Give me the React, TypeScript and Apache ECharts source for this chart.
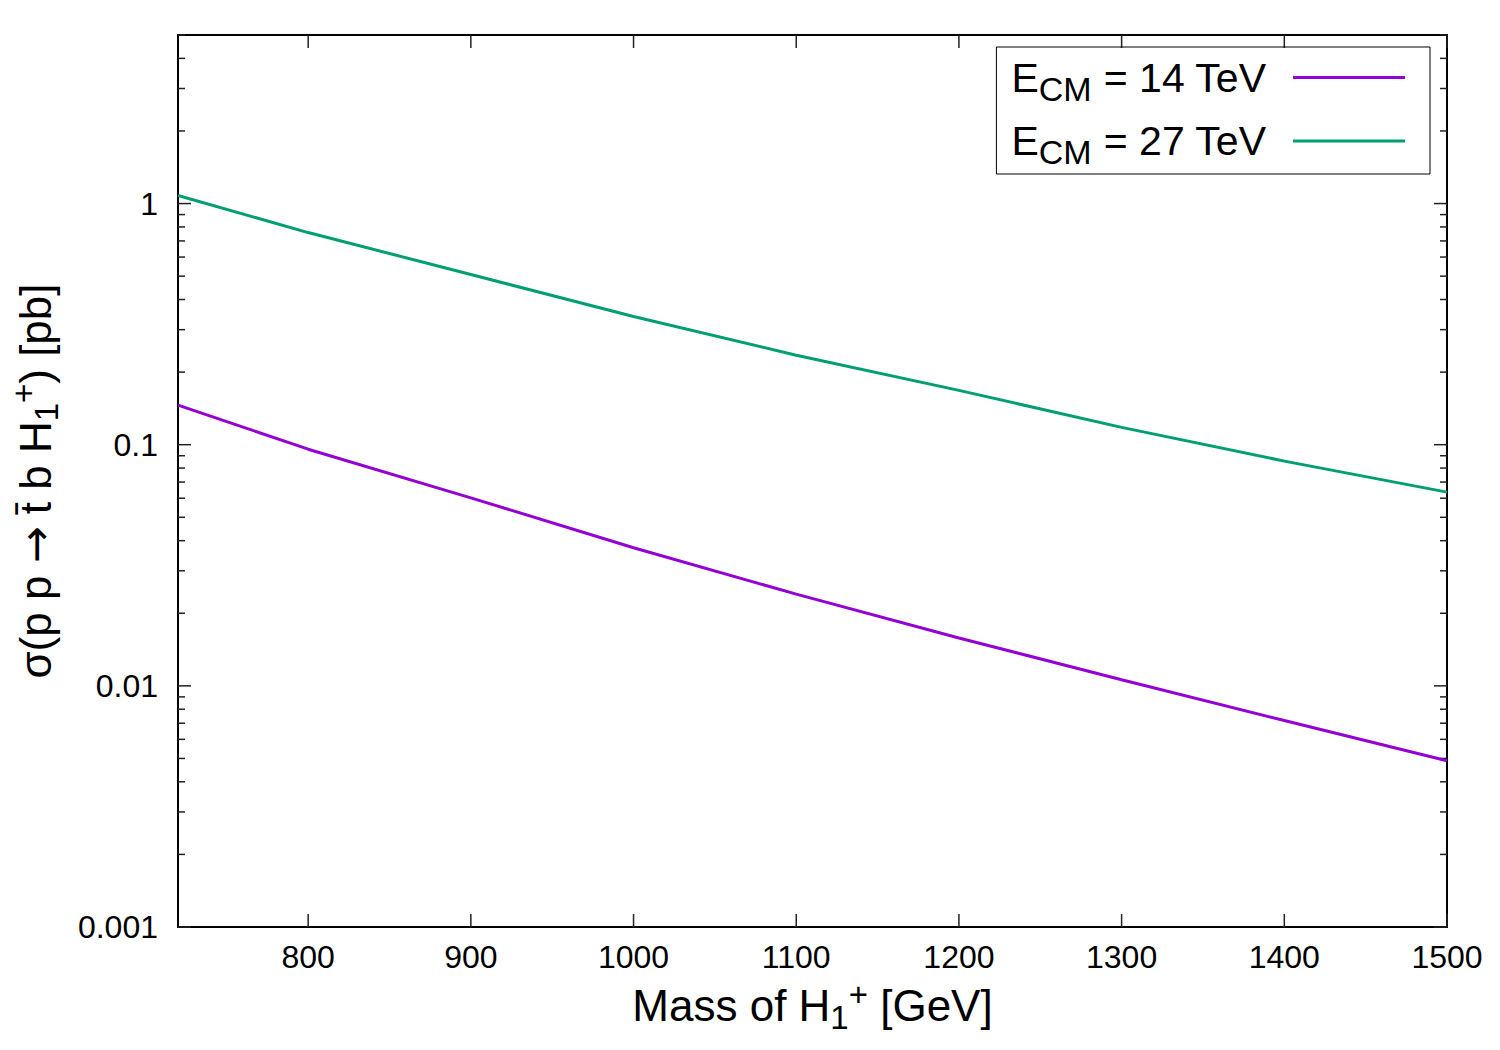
import React, { useEffect, useRef } from "react";
import * as echarts from "echarts";

// ---- data ----
const masses = [720, 800, 900, 1000, 1100, 1200, 1300, 1400, 1500];
const sigma14 = [0.146, 0.0958, 0.0602, 0.0374, 0.024, 0.0158, 0.0106, 0.00718, 0.00489];
const sigma27 = [1.08, 0.758, 0.508, 0.34, 0.235, 0.168, 0.118, 0.0855, 0.0636];
const seriesNames = ["E_CM = 14 TeV", "E_CM = 27 TeV"];
const seriesColors = ["#9400d3", "#009e73"];
const xTickValues = [800, 900, 1000, 1100, 1200, 1300, 1400, 1500];
const yMajorTicks = [0.001, 0.01, 0.1, 1];
const yMinorMultipliers = [2, 3, 4, 5, 6, 7, 8, 9];
const xRange = [720, 1500];
const yRange = [0.001, 5];

const FONT = "Liberation Sans, Arial, Helvetica, sans-serif";

export default function App() {
  const ref = useRef<HTMLDivElement>(null);

  useEffect(() => {
    document.body.style.margin = "0";
    const chart = echarts.init(ref.current!, null, { renderer: "svg" });

    const legendRich = {
      m: { fontSize: 41, lineHeight: 56, fontFamily: FONT, color: "#000" },
      s: { fontSize: 34, lineHeight: 36, verticalAlign: "bottom", fontFamily: FONT, color: "#000" },
    };
    const titleRich = {
      m: { fontSize: 44, lineHeight: 56, fontFamily: FONT, color: "#000" },
      ar: { fontSize: 44, lineHeight: 56, fontFamily: "DejaVu Sans, sans-serif", color: "#000" },
      sub: { fontSize: 33, lineHeight: 30, verticalAlign: "bottom", fontFamily: FONT, color: "#000" },
      sup: { fontSize: 33, lineHeight: 36, verticalAlign: "top", fontFamily: FONT, color: "#000" },
    };

    chart.setOption({
      animation: false,
      backgroundColor: "#fff",
      grid: {
        left: 178,
        right: 53,
        top: 35,
        bottom: 123,
        containLabel: false,
        outerBoundsMode: "none",
        show: true,
        borderColor: "#000",
        borderWidth: 2,
        backgroundColor: "transparent",
      },
      legend: {
        data: seriesNames,
        orient: "vertical",
        right: 70,
        top: 47,
        align: "right",
        icon: "rect",
        itemWidth: 112,
        itemHeight: 3,
        itemGap: 15,
        borderColor: "#000",
        borderWidth: 1,
        padding: [10, 25, 5, 15],
        formatter: (name: string) => {
          const rest = name.replace("E_CM", "");
          return "{m|E}{s|CM}{m|" + rest + "}";
        },
        textStyle: { rich: legendRich, padding: [0, 22, 0, 0] },
      },
      xAxis: {
        type: "value",
        min: xRange[0],
        max: xRange[1],
        axisLine: { show: false },
        axisTick: { show: false },
        splitLine: { show: false },
        axisLabel: {
          customValues: xTickValues,
          fontSize: 32,
          fontFamily: FONT,
          color: "#000",
          margin: 14,
          formatter: (v: number) => String(v),
        },
        name: "{m|Mass of H}{sub|1}{sup|+}{m| [GeV]}",
        nameLocation: "middle",
        nameGap: 26,
        nameTextStyle: { rich: titleRich },
      },
      yAxis: {
        type: "log",
        logBase: 10,
        min: yRange[0],
        max: yRange[1],
        axisLine: { show: false },
        axisTick: { show: false },
        splitLine: { show: false },
        axisLabel: {
          fontSize: 32,
          fontFamily: FONT,
          color: "#000",
          margin: 20,
          showMaxLabel: false,
          formatter: (v: number) => {
            const e = Math.log10(v);
            if (Math.abs(e - Math.round(e)) > 1e-6) return "";
            return String(Number(v.toPrecision(1)));
          },
        },
        name: "{m|σ(p p }{ar|→}{m| t̄ b H}{sub|1}{sup|+}{m|) [pb]}",
        nameLocation: "middle",
        nameRotate: 90,
        nameGap: 115,
        nameTextStyle: { rich: titleRich },
      },
      series: [
        {
          name: seriesNames[0],
          type: "line",
          data: masses.map((m, i) => [m, sigma14[i]]),
          showSymbol: false,
          lineStyle: { color: seriesColors[0], width: 3 },
          itemStyle: { color: seriesColors[0] },
        },
        {
          name: seriesNames[1],
          type: "line",
          data: masses.map((m, i) => [m, sigma27[i]]),
          showSymbol: false,
          lineStyle: { color: seriesColors[1], width: 3 },
          itemStyle: { color: seriesColors[1] },
        },
      ],
    });

    // ticks on all four sides, placed through the axes' own scales
    const px = (v: number) => chart.convertToPixel({ xAxisIndex: 0 }, v) as number;
    const py = (v: number) => chart.convertToPixel({ yAxisIndex: 0 }, v) as number;
    const left = px(xRange[0]);
    const right = px(xRange[1]);
    const top = py(yRange[1]);
    const bottom = py(yRange[0]);
    const MAJOR = 13;
    const MINOR = 7;
    const tickStyle = { stroke: "#222", lineWidth: 1.5 };
    const g: any[] = [];
    const hLine = (y: number, len: number) => {
      g.push({ type: "line", silent: true, shape: { x1: left, y1: y, x2: left + len, y2: y }, style: tickStyle });
      g.push({ type: "line", silent: true, shape: { x1: right, y1: y, x2: right - len, y2: y }, style: tickStyle });
    };
    yMajorTicks.forEach((v) => {
      hLine(py(v), MAJOR);
      yMinorMultipliers.forEach((k) => {
        const mv = v * k;
        if (mv <= yRange[1]) hLine(py(mv), MINOR);
      });
    });
    xTickValues.forEach((v) => {
      const x = px(v);
      g.push({ type: "line", silent: true, shape: { x1: x, y1: bottom, x2: x, y2: bottom - MAJOR }, style: tickStyle });
      g.push({ type: "line", silent: true, shape: { x1: x, y1: top, x2: x, y2: top + MAJOR }, style: tickStyle });
    });
    chart.setOption({ graphic: g });

    return () => chart.dispose();
  }, []);

  return <div ref={ref} style={{ width: 1500, height: 1050 }} />;
}
